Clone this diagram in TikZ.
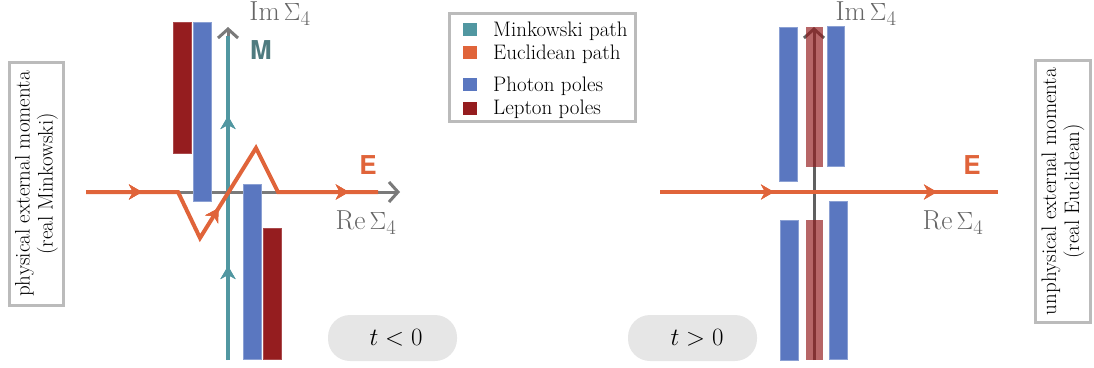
\documentclass[tikz,border=0pt]{standalone}
\usepackage{fontspec}
\newfontfamily\heros{TeX Gyre Heros}
\usetikzlibrary{arrows.meta,decorations.markings}
\definecolor{tealc}{HTML}{5197A1}
\definecolor{orangec}{HTML}{E0643A}
\definecolor{bluec}{HTML}{5A77C0}
\definecolor{redc}{HTML}{951D1F}
\definecolor{labM}{HTML}{4F7B7F}
\definecolor{axisc}{HTML}{7A7A7A}
\definecolor{axisd}{HTML}{606060}
\definecolor{boxc}{HTML}{BBBBBB}
\definecolor{pillc}{HTML}{E6E6E6}
\definecolor{txtg}{HTML}{666666}
\tikzset{
  axisline/.style={draw=axisc,line width=3pt,-{Straight Barb[length=9pt,width=20pt,line width=3pt]}},
  tealpath/.style={draw=tealc,line width=4pt},
  orpath/.style={draw=orangec,line width=4pt},
  arrowat/.style={postaction={decorate},decoration={markings,mark=at position #1 with {\arrow{Stealth[length=13pt,width=15pt,inset=4pt]}}}},
  bluepole/.style={fill=bluec,draw=bluec!70!white,line width=0.6pt},
  redpole/.style={fill=redc,draw=redc!80!white,line width=0.6pt},
  redtrans/.style={fill=redc,fill opacity=0.68,draw=none},
  axlabel/.style={text=txtg,font=\fontsize{27.5}{32}\selectfont},
  pathlabel/.style={font=\heros\bfseries\fontsize{26}{30}\selectfont},
  sidebox/.style={draw=boxc,line width=3pt,rotate=90,align=center,inner sep=0pt,font=\fontsize{21}{23}\selectfont},
  pill/.style={fill=pillc,rounded corners=22pt,minimum width=129pt,minimum height=46pt,inner sep=0pt},
  pilltext/.style={font=\fontsize{29}{32}\selectfont},
  legsq/.style={minimum width=14pt,minimum height=13pt,inner sep=0pt},
  legtext/.style={anchor=base west,font=\fontsize{21}{25}\selectfont,inner sep=0pt},
}
\begin{document}
\begin{tikzpicture}[x=1pt,y=-1pt]
\useasboundingbox (0,0) rectangle (1094,367);

% ---------- left panel ----------
\coordinate (Lre0) at (86,192);
\coordinate (Lre1) at (400,192);
\coordinate (Lim0) at (228,360);
\coordinate (Lim1) at (228,27);
\coordinate (Lteal1) at (228,36);
\draw[axisline] (Lre0) -- (Lre1);
\draw[axisline] (Lim0) -- (Lim1);
\draw[tealpath,arrowat=94pt,arrowat=244pt] (Lim0) -- (Lteal1);

\coordinate (Le0) at (86,192);
\coordinate (Le1) at (178,192);
\coordinate (Le2) at (200,238);
\coordinate (Le3) at (256,148);
\coordinate (Le4) at (278,192);
\coordinate (Le5) at (378,192);
\draw[orpath,line join=miter,arrowat=56pt,arrowat=178pt,arrowat=369pt] (Le0) -- (Le1) -- (Le2) -- (Le3) -- (Le4) -- (Le5);

\fill[redpole] (173,22) rectangle (191,153);
\fill[bluepole] (193,22) rectangle (211,201);
\fill[bluepole] (243,184) rectangle (261,359);
\fill[redpole] (263,228) rectangle (281,359);

\node[axlabel] (LIm) at (280,14) {$\mathrm{Im}\,\Sigma_4$};
\node[axlabel] (LRe) at (366,223) {$\mathrm{Re}\,\Sigma_4$};
\node[pathlabel,text=labM] (LM) at (261,50) {M};
\node[pathlabel,text=orangec] (LE) at (368,165) {E};

\node[sidebox,minimum width=243pt,minimum height=54pt] (Lbox) at (36.5,184) {physical external momenta\\(real Minkowski)};

\node[pill] (Lpill) at (392.5,338) {};
\node[pilltext] (Lpt) at (396,338) {$t<0$};

% ---------- legend ----------
\node[draw=boxc,line width=3pt,minimum width=186pt,minimum height=108pt,inner sep=0pt] (leg) at (542.5,67.5) {};
\node[legsq,fill=tealc] (sq1) at (470,29) {};
\node[legsq,fill=orangec] (sq2) at (470,52) {};
\node[legsq,fill=bluec] (sq3) at (470,84) {};
\node[legsq,fill=redc] (sq4) at (470,108) {};
\node[legtext] (t1) at (493,36) {Minkowski path};
\node[legtext] (t2) at (493,59) {Euclidean path};
\node[legtext] (t3) at (493,91) {Photon poles};
\node[legtext] (t4) at (493,114) {Lepton poles};

% ---------- right panel ----------
\coordinate (Rim0) at (814,360);
\coordinate (Rim1) at (814,27);
\coordinate (Rre0) at (660,192);
\coordinate (Rre1) at (998,192);
\draw[axisline,draw=axisd] (Rim0) -- (Rim1);
\draw[orpath,arrowat=114pt,arrowat=277pt] (Rre0) -- (Rre1);

\fill[bluepole] (779,27) rectangle (797,181);
\fill[bluepole] (827,26) rectangle (844,166);
\fill[bluepole] (780,220) rectangle (798,360);
\fill[bluepole] (829,201) rectangle (847,359);
\fill[redtrans] (806,27) rectangle (823,167);
\fill[redtrans] (806,220) rectangle (823,360);

\node[axlabel] (RIm) at (866,14) {$\mathrm{Im}\,\Sigma_4$};
\node[axlabel] (RRe) at (953,223) {$\mathrm{Re}\,\Sigma_4$};
\node[pathlabel,text=orangec] (RE) at (972,165) {E};

\node[sidebox,minimum width=262pt,minimum height=55pt] (Rbox) at (1063,191.5) {unphysical external momenta\\(real Euclidean)};

\node[pill] (Rpill) at (692.5,338) {};
\node[pilltext] (Rpt) at (697,338) {$t>0$};
\end{tikzpicture}
\end{document}
